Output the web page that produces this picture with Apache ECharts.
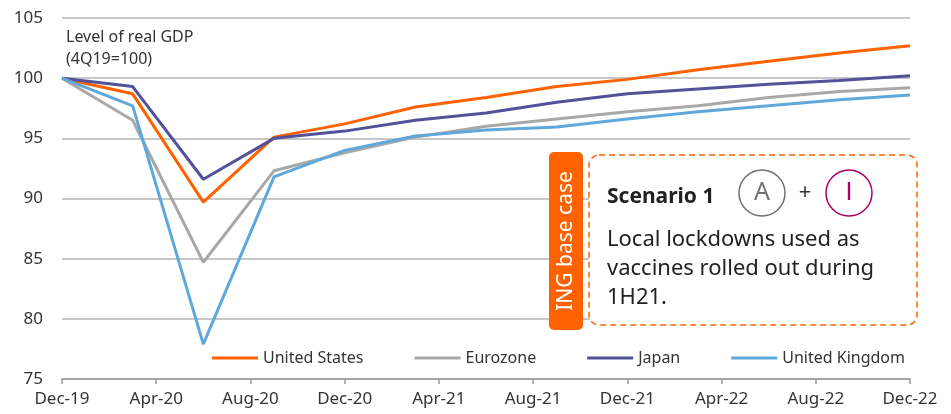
<!DOCTYPE html>
<html>
<head>
<meta charset="utf-8">
<script src="https://cdn.jsdelivr.net/npm/echarts@6/dist/echarts.min.js"></script>
<style>html,body{margin:0;padding:0;background:#fff}#chart{width:951px;height:414px}</style>
</head>
<body>
<div id="chart"></div>
<script>
// monthly axis categories (labels shown every 4 months)
var months = ['Dec-19','Jan-20','Feb-20','Mar-20','Apr-20','May-20','Jun-20','Jul-20','Aug-20','Sep-20','Oct-20','Nov-20',
  'Dec-20','Jan-21','Feb-21','Mar-21','Apr-21','May-21','Jun-21','Jul-21','Aug-21','Sep-21','Oct-21','Nov-21',
  'Dec-21','Jan-22','Feb-22','Mar-22','Apr-22','May-22','Jun-22','Jul-22','Aug-22','Sep-22','Oct-22','Nov-22','Dec-22'];

// quarterly observations
var quarters = ['Dec-19','Mar-20','Jun-20','Sep-20','Dec-20','Mar-21','Jun-21','Sep-21','Dec-21','Mar-22','Jun-22','Sep-22','Dec-22'];
var unitedStates  = [100, 98.7, 89.7, 95.1, 96.2, 97.6, 98.4, 99.3, 99.9, 100.7, 101.4, 102.1, 102.7];
var eurozone      = [100, 96.5, 84.7, 92.3, 93.8, 95.1, 96.0, 96.6, 97.2, 97.7, 98.4, 98.9, 99.2];
var japan         = [100, 99.3, 91.6, 95.0, 95.6, 96.5, 97.1, 98.0, 98.7, 99.1, 99.5, 99.8, 100.2];
var unitedKingdom = [100, 97.7, 77.9, 91.8, 94.0, 95.2, 95.7, 95.95, 96.6, 97.2, 97.7, 98.2, 98.6];

var fontFamily = 'Noto Sans';

// put quarterly values on the monthly axis
function toMonthly(vals) {
    var arr = months.map(function () { return null; });
    vals.forEach(function (v, i) { arr[months.indexOf(quarters[i])] = v; });
    return arr;
}

function makeSeries(name, vals, color) {
    return {
        name: name,
        type: 'line',
        data: toMonthly(vals),
        connectNulls: true,
        symbol: 'none',
        lineStyle: { width: 3, color: color },
        itemStyle: { color: color }
    };
}

var myChart = echarts.init(document.getElementById('chart'));

var option = {
    animation: false,
    textStyle: { fontFamily: fontFamily },
    grid: { left: 62, right: 41, top: 18, bottom: 35 },
    legend: {
        right: 41,
        top: 345,
        icon: 'rect',
        itemWidth: 46,
        itemHeight: 3,
        itemGap: 51,
        textStyle: { fontSize: 16, color: '#333', fontFamily: fontFamily },
        data: ['United States', 'Eurozone', 'Japan', 'United Kingdom']
    },
    xAxis: {
        type: 'category',
        data: months,
        boundaryGap: false,
        axisLine: { lineStyle: { color: '#999', width: 1.5 } },
        axisTick: { interval: 3, length: 5, lineStyle: { color: '#999', width: 1.5 } },
        axisLabel: { interval: 3, fontSize: 17, color: '#333', margin: 12, fontFamily: fontFamily },
        splitLine: { show: false }
    },
    yAxis: {
        type: 'value',
        min: 75,
        max: 105,
        interval: 5,
        axisLine: { show: false },
        axisTick: { show: false },
        axisLabel: { fontSize: 17, color: '#333', margin: 19, fontFamily: fontFamily },
        splitLine: { lineStyle: { color: '#b5b5b5', width: 1.5 } }
    },
    graphic: [
        { type: 'text', left: 66, top: 26, z: 100,
          style: { text: 'Level of real GDP\n(4Q19=100)', fontSize: 16, lineHeight: 22, fill: '#333', fontFamily: fontFamily } },
        { type: 'rect', z: 100, shape: { x: 549, y: 152, width: 34, height: 178, r: 5 }, style: { fill: '#FF6200' } },
        { type: 'text', z: 101, x: 566, y: 241, rotation: Math.PI / 2,
          style: { text: 'ING base case', fill: '#fff', fontSize: 21, align: 'center', verticalAlign: 'middle', fontFamily: fontFamily } },
        { type: 'rect', z: 100, shape: { x: 589, y: 155, width: 328, height: 170, r: 10 },
          style: { fill: '#fff', stroke: '#FF6200', lineWidth: 1.5, lineDash: [6, 4] } },
        { type: 'text', z: 101, x: 607, y: 197,
          style: { text: 'Scenario 1', fill: '#222', fontSize: 21, fontWeight: 'bold', verticalAlign: 'middle', fontFamily: fontFamily } },
        { type: 'circle', z: 101, shape: { cx: 762, cy: 193, r: 23 }, style: { fill: 'none', stroke: '#707070', lineWidth: 1.5 } },
        { type: 'text', z: 101, x: 762, y: 193,
          style: { text: 'A', fill: '#707070', fontSize: 25, align: 'center', verticalAlign: 'middle', fontFamily: fontFamily } },
        { type: 'text', z: 101, x: 805, y: 193,
          style: { text: '+', fill: '#333', fontSize: 22, align: 'center', verticalAlign: 'middle', fontFamily: fontFamily } },
        { type: 'circle', z: 101, shape: { cx: 849, cy: 193, r: 23 }, style: { fill: 'none', stroke: '#AB0066', lineWidth: 1.5 } },
        { type: 'text', z: 101, x: 849, y: 193,
          style: { text: 'I', fill: '#AB0066', fontSize: 25, align: 'center', verticalAlign: 'middle', fontFamily: 'Liberation Sans' } },
        { type: 'text', z: 101, x: 607, y: 225,
          style: { text: 'Local lockdowns used as\nvaccines rolled out during\n1H21.', fill: '#222', fontSize: 22, lineHeight: 29, fontFamily: fontFamily } }
    ],
    series: [
        makeSeries('United States', unitedStates, '#FF6200'),
        makeSeries('Eurozone', eurozone, '#A8A8A8'),
        makeSeries('Japan', japan, '#525199'),
        makeSeries('United Kingdom', unitedKingdom, '#60A8DC')
    ]
};

myChart.setOption(option);
</script>
</body>
</html>
